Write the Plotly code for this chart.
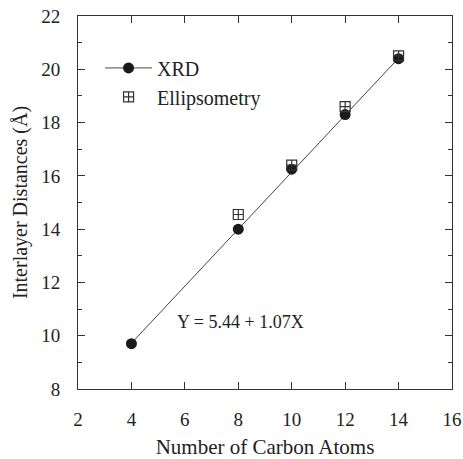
import plotly.graph_objects as go

carbon_xrd = [4, 8, 10, 12, 14]
dist_xrd = [9.7, 14.0, 16.25, 18.3, 20.4]
carbon_ell = [8, 10, 12, 14]
dist_ell = [14.55, 16.4, 18.6, 20.5]
fit_intercept = 5.44
fit_slope = 1.07
fit_x = [4, 14]
fit_y = [fit_intercept + fit_slope * x for x in fit_x]

font = "Liberation Serif"
ink = "#222222"

fig = go.Figure()
fig.add_trace(go.Scatter(x=fit_x, y=fit_y, mode="lines", line=dict(color="#444", width=1), showlegend=False))
fig.add_trace(go.Scatter(x=carbon_xrd, y=dist_xrd, mode="markers",
                         marker=dict(symbol="circle", size=11, color="#1a1a1a"), showlegend=False))
fig.add_trace(go.Scatter(x=[None], y=[None], mode="lines+markers", name="XRD",
                         line=dict(color="#444", width=1),
                         marker=dict(symbol="circle", size=11, color="#1a1a1a")))
fig.add_trace(go.Scatter(x=carbon_ell, y=dist_ell, mode="markers", name="Ellipsometry",
                         marker=dict(symbol="square-cross-open", size=10,
                                     color="#333", line=dict(width=1.2))))

fig.add_annotation(x=8.1, y=10.5, text="Y = 5.44 + 1.07X", showarrow=False,
                   font=dict(family=font, size=18, color=ink))

axis_common = dict(showgrid=False, zeroline=False, showline=True, linecolor="#333", linewidth=1,
                   mirror="allticks", ticks="inside", ticklen=7, tickcolor="#333", automargin=False,
                   tickfont=dict(family=font, size=19, color=ink))
fig.update_xaxes(range=[2, 16], dtick=2, tick0=2, ticklabelstandoff=13,
                 title=dict(text="Number of Carbon Atoms", font=dict(family=font, size=21, color=ink), standoff=10),
                 **axis_common)
fig.update_yaxes(range=[8, 22], dtick=2, tick0=8, ticklabelstandoff=13,
                 minor=dict(dtick=1, ticks="inside", ticklen=4, tickcolor="#333"),
                 title=dict(text="Interlayer Distances (Å)", font=dict(family=font, size=20, color=ink), standoff=8),
                 **axis_common)

fig.update_layout(
    width=463, height=459,
    margin=dict(l=78, r=11, t=16, b=70),
    plot_bgcolor="white", paper_bgcolor="white",
    legend=dict(x=0.059, y=0.913, xanchor="left", yanchor="top", bgcolor="rgba(0,0,0,0)",
                font=dict(family=font, size=20, color=ink), itemwidth=47, tracegroupgap=4),
)

fig.write_html("out.html")
